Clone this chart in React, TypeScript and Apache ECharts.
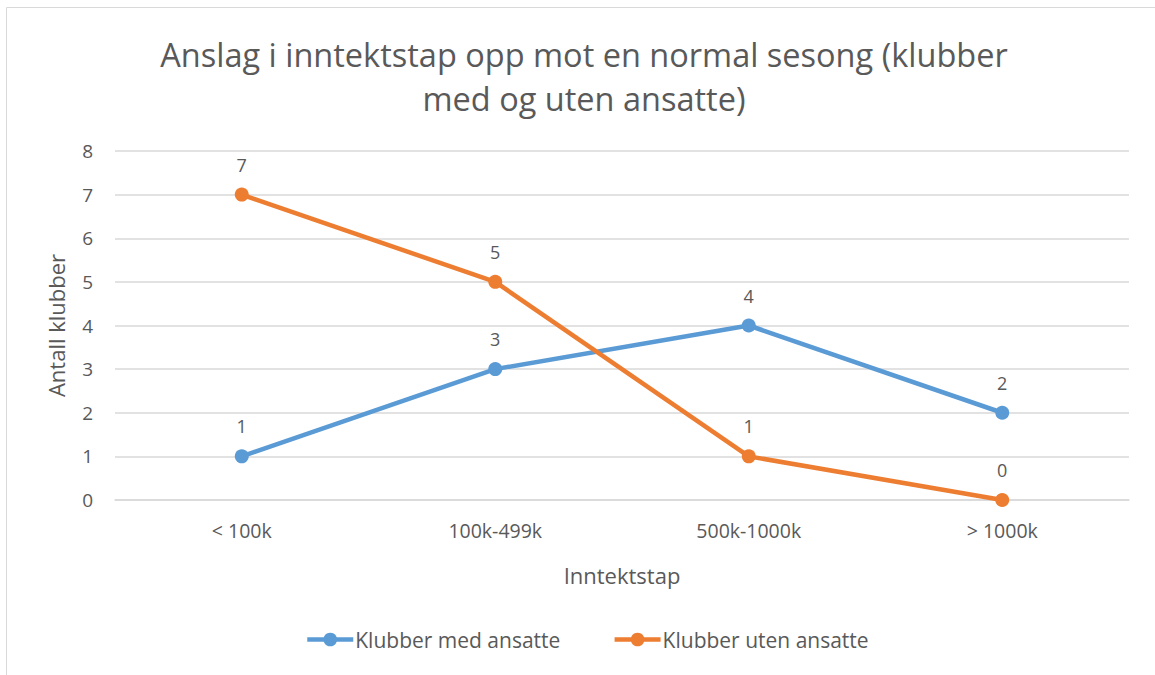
import React, { useEffect, useRef } from "react";
import * as echarts from "echarts";

const categories = ["< 100k", "100k-499k", "500k-1000k", "> 1000k"];
const medAnsatte = [1, 3, 4, 2];
const utenAnsatte = [7, 5, 1, 0];
const seriesNames = ["Klubber med ansatte", "Klubber uten ansatte"];
const titleText = "Anslag i inntektstap opp mot en normal sesong (klubber\nmed og uten ansatte)";

const FONT = "'Open Sans', 'Noto Sans', sans-serif";
const TXT = "#595959";

export default function App() {
  const ref = useRef<HTMLDivElement>(null);
  useEffect(() => {
    if (!ref.current) return;
    const chart = echarts.init(ref.current, undefined, { renderer: "svg" });
    const mk = (name: string, data: number[], color: string) => ({
      name,
      type: "line",
      data,
      symbol: "circle",
      symbolSize: 14,
      lineStyle: { color, width: 4.5 },
      itemStyle: { color },
      label: {
        show: true,
        position: "top",
        distance: 14,
        color: TXT,
        fontSize: 18,
        fontFamily: FONT,
      },
    });
    chart.setOption({
      animation: false,
      backgroundColor: "#ffffff",
      textStyle: { fontFamily: FONT },
      title: {
        text: titleText,
        left: 579,
        textAlign: "center",
        top: 27,
        textStyle: {
          fontSize: 32.5,
          fontWeight: "normal",
          color: TXT,
          fontFamily: FONT,
          lineHeight: 44,
        },
      },
      graphic: [
        {
          type: "rect",
          shape: { x: 6.5, y: 7.5, width: 1160, height: 680 },
          style: { fill: "none", stroke: "#D9D9D9", lineWidth: 1 },
          silent: true,
        },
      ],
      legend: {
        data: seriesNames,
        orient: "horizontal",
        bottom: 20,
        left: 300,
        width: 800,
        itemWidth: 46,
        itemHeight: 17,
        itemGap: 52,
        lineStyle: { width: 4.5 },
        textStyle: { fontSize: 21, color: TXT, fontFamily: FONT, padding: [0, 0, 0, -3] },
      },
      grid: { left: 115, right: 26, top: 151, bottom: 175 },
      xAxis: {
        type: "category",
        data: categories,
        boundaryGap: true,
        name: "Inntektstap",
        nameLocation: "middle",
        nameGap: 64,
        nameTextStyle: { fontSize: 22, color: TXT, fontFamily: FONT },
        axisLine: { show: true, lineStyle: { color: "#D9D9D9", width: 1.5 } },
        axisTick: { show: false },
        axisLabel: { color: TXT, fontSize: 19.5, margin: 20, fontFamily: FONT },
      },
      yAxis: {
        type: "value",
        min: 0,
        max: 8,
        interval: 1,
        name: "Antall klubber",
        nameLocation: "middle",
        nameGap: 48,
        nameTextStyle: { fontSize: 22, color: TXT, fontFamily: FONT },
        axisLine: { show: false },
        axisTick: { show: false },
        axisLabel: { color: TXT, fontSize: 19, margin: 22, fontFamily: FONT },
        splitLine: { lineStyle: { color: "#D9D9D9", width: 1.5 } },
      },
      series: [
        mk(seriesNames[0], medAnsatte, "#5B9BD5"),
        mk(seriesNames[1], utenAnsatte, "#ED7D31"),
      ],
    });
    return () => chart.dispose();
  }, []);
  return (
    <div
      ref={ref}
      style={{ position: "fixed", left: 0, top: 0, width: 1155, height: 675 }}
    />
  );
}
